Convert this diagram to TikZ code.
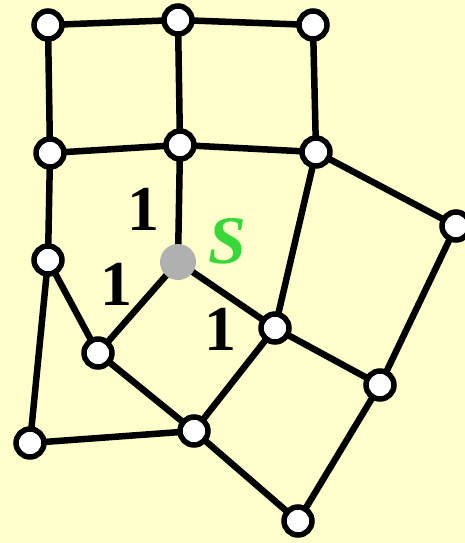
\documentclass[tikz,border=0pt]{standalone}
\usepackage{fontspec}
\setmainfont{Liberation Serif}
\definecolor{bg}{HTML}{FFFFCC}
\definecolor{sgreen}{HTML}{38D838}
\definecolor{sgray}{HTML}{B0B0B0}
\begin{document}
\begin{tikzpicture}[x=1pt,y=-1pt,
  vtx/.style={circle,draw=black,fill=white,line width=5.5pt,minimum size=28pt,inner sep=0pt},
  src/.style={circle,fill=sgray,minimum size=36pt,inner sep=0pt},
  edge/.style={line width=6.5pt,black},
  wlabel/.style={font=\fontsize{64}{64}\selectfont\bfseries,inner sep=0pt}]
\fill[bg] (0,0) rectangle (465,543);
\useasboundingbox (0,0) rectangle (465,543);
\coordinate (A) at (48,25);
\coordinate (B) at (178,20);
\coordinate (C) at (313,25);
\coordinate (D) at (50,153);
\coordinate (E) at (180,145);
\coordinate (F) at (316,152);
\coordinate (G) at (456,226);
\coordinate (H) at (48,260);
\coordinate (S) at (178,262);
\coordinate (I) at (275,328);
\coordinate (J) at (98,353);
\coordinate (K) at (380,385);
\coordinate (L) at (30,443);
\coordinate (M) at (194,431);
\coordinate (N) at (298,521);
\draw[edge] (A)--(B) (B)--(C) (A)--(D) (B)--(E) (C)--(F) (D)--(E) (E)--(F)
  (E)--(S) (D)--(H) (F)--(G) (F)--(I) (G)--(K) (H)--(J) (H)--(L) (S)--(J)
  (S)--(I) (I)--(K) (I)--(M) (J)--(M) (L)--(M) (M)--(N) (N)--(K);
\foreach \n in {A,B,C,D,E,F,G,H,I,J,K,L,M,N} \node[vtx] (n\n) at (\n) {};
\node[src] (nS) at (S) {};
\node[wlabel] (l1) at (143,209) {1};
\node[wlabel] (l2) at (116,284) {1};
\node[wlabel] (l3) at (220,329) {1};
\node[font=\fontsize{68}{68}\selectfont\bfseries\itshape,text=sgreen,inner sep=0pt] (sl) at (227,241) {S};
\end{tikzpicture}
\end{document}
